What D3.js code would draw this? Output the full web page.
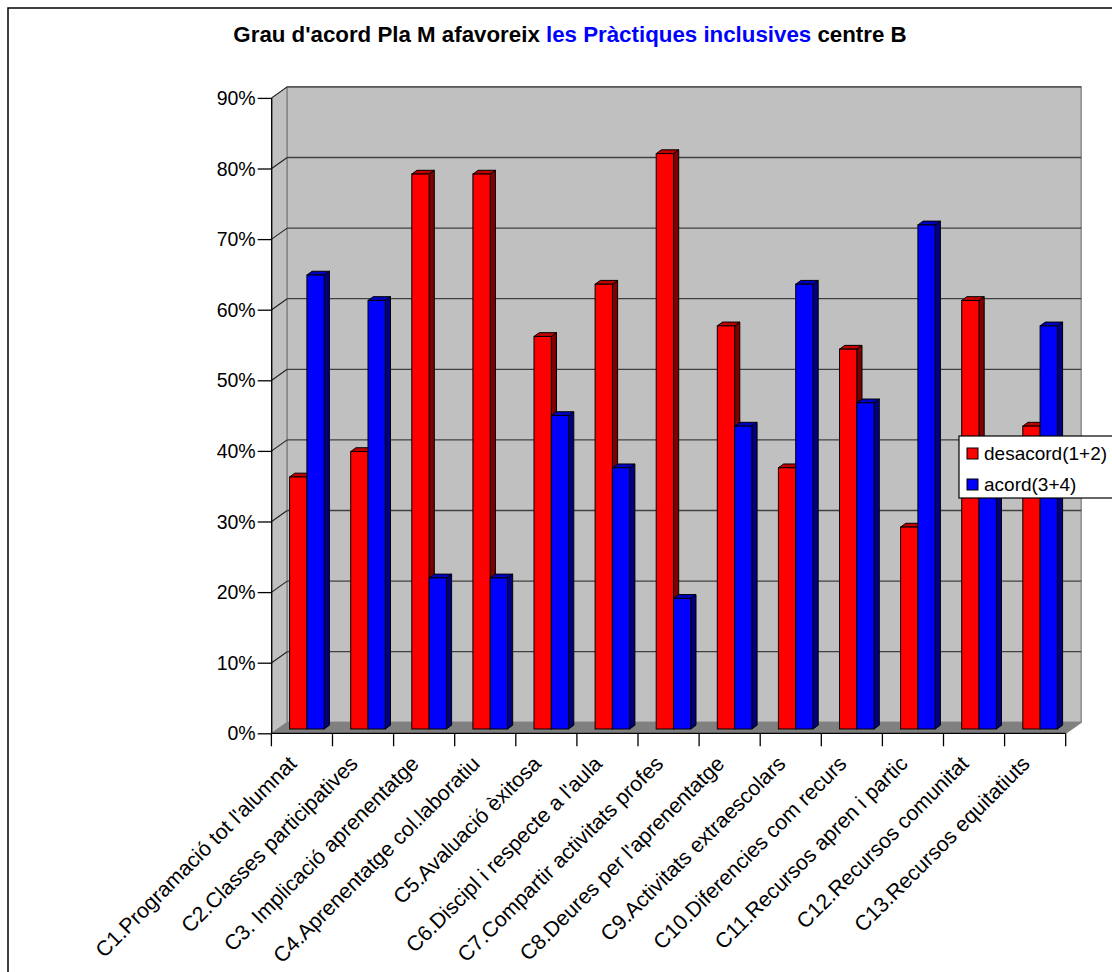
<!DOCTYPE html>
<html>
<head>
<meta charset="utf-8">
<script src="https://cdn.jsdelivr.net/npm/d3@7"></script>
<style>
  html, body { margin: 0; padding: 0; background: #fff; }
  svg { display: block; }
  text { font-family: "Liberation Sans", Arial, sans-serif; }
</style>
</head>
<body>
<svg id="chart" width="1112" height="972"></svg>
<script>
const categories = [
  "C1.Programació tot l'alumnat",
  "C2.Classes participatives",
  "C3. Implicació aprenentatge",
  "C4.Aprenentatge col.laboratiu",
  "C5.Avaluació èxitosa",
  "C6.Discipl i respecte a l'aula",
  "C7.Compartir activitats profes",
  "C8.Deures per l'aprenentatge",
  "C9.Activitats extraescolars",
  "C10.Diferencies com recurs",
  "C11.Recursos apren i partic",
  "C12.Recursos comunitat",
  "C13.Recursos equitatiuts"
];
const seriesNames = ["desacord(1+2)", "acord(3+4)"];
const desacord = [0.357, 0.393, 0.786, 0.786, 0.556, 0.630, 0.815, 0.571, 0.370, 0.538, 0.286, 0.607, 0.429];
const acord    = [0.643, 0.607, 0.214, 0.214, 0.444, 0.370, 0.185, 0.429, 0.630, 0.462, 0.714, 0.393, 0.571];
const yTicks = [0, 0.1, 0.2, 0.3, 0.4, 0.5, 0.6, 0.7, 0.8, 0.9];
const titleParts = [
  {text: "Grau d'acord Pla M afavoreix ", color: "#000000"},
  {text: "les Pràctiques inclusives", color: "#0000FF"},
  {text: " centre B", color: "#000000"}
];

const colors = {
  front: ["#FF0000", "#0000FF"],
  top:   ["#C00000", "#0000C0"],
  side:  ["#800000", "#000080"]
};

const svg = d3.select("#chart");
const FONT = 19.5;
const LABEL_FONT = 21.3;
const LEGEND_FONT = 19;

// outer chart border
svg.append("rect").attr("x", 8).attr("y", 8).attr("width", 1200).attr("height", 1200)
  .attr("fill", "none").attr("stroke", "#000").attr("stroke-width", 1.5);

// title
const title = svg.append("text").attr("x", 570).attr("y", 42)
  .attr("text-anchor", "middle").attr("font-weight", "bold").attr("font-size", 22.3);
titleParts.forEach(p => title.append("tspan").attr("fill", p.color).text(p.text));

// scales
const y = d3.scaleLinear().domain([0, 0.9]).range([733.3, 97.9]);
const x = d3.scaleBand().domain(categories).range([271.4, 1065.7]).padding(0);
const D = {x: 15.5, y: -11};            // full depth of the 3D box
const xs = d3.scaleBand().domain(seriesNames).range([12.2, 12.2 + 34.6]).padding(0);
const bf = {x: 6.0, y: -4.3};           // bar front offset into depth
const bd = {x: 5.2, y: -3.8};           // bar thickness in depth

const x0 = x.range()[0] + 0.3, x1 = x.range()[1];
const y0 = y(0), yTop = y(0.9);

// side wall
svg.append("polygon")
  .attr("points", [[x0, y0], [x0, yTop], [x0 + D.x, yTop + D.y], [x0 + D.x, y0 + D.y]].map(p => p.join(",")).join(" "))
  .attr("fill", "#C0C0C0").attr("stroke", "#808080").attr("stroke-width", 1);
// back wall
svg.append("rect").attr("x", x0 + D.x).attr("y", yTop + D.y)
  .attr("width", x1 - x0).attr("height", y0 - yTop)
  .attr("fill", "#C0C0C0").attr("stroke", "#808080").attr("stroke-width", 1.3);
// floor
svg.append("polygon")
  .attr("points", [[x0, y0], [x1, y0], [x1 + D.x, y0 + D.y], [x0 + D.x, y0 + D.y]].map(p => p.join(",")).join(" "))
  .attr("fill", "#808080").attr("stroke", "#808080").attr("stroke-width", 0.5);

// gridlines
const grid = svg.append("g");
yTicks.slice(1).forEach(t => {
  grid.append("line").attr("x1", x0 + D.x).attr("x2", x1 + D.x)
    .attr("y1", y(t) + D.y).attr("y2", y(t) + D.y)
    .attr("stroke", "#404040").attr("stroke-width", 1.3);
  grid.append("line").attr("x1", x0).attr("x2", x0 + D.x)
    .attr("y1", y(t)).attr("y2", y(t) + D.y)
    .attr("stroke", "#202020").attr("stroke-width", 1.1);
});

// y axis
const yAxis = d3.axisLeft(y).tickValues(yTicks).tickFormat(d3.format(".0%")).tickSize(14).tickPadding(2);
const gy = svg.append("g").attr("transform", `translate(${x0},0)`).call(yAxis);
gy.select(".domain").attr("stroke", "#000").attr("stroke-width", 1.3).attr("d", `M0,${y0}V${yTop}`);
gy.selectAll(".tick line").attr("stroke", "#000").attr("stroke-width", 1.3);
gy.selectAll(".tick text").attr("font-size", FONT).attr("font-family", "Liberation Sans, Arial, sans-serif")
  .attr("fill", "#000").attr("dy", "0.34em");

// bars
const data = categories.map((c, i) => ({cat: c, vals: [desacord[i], acord[i]]}));
const bars = svg.append("g");
data.forEach(d => {
  d.vals.forEach((v, s) => {
    const bx = x(d.cat) + xs(seriesNames[s]) + bf.x;
    const bw = xs.bandwidth();
    const by0 = y(0) + bf.y;
    const by1 = y(v) + bf.y;
    const g = bars.append("g");
    g.append("polygon")
      .attr("points", [[bx + bw, by0], [bx + bw, by1], [bx + bw + bd.x, by1 + bd.y], [bx + bw + bd.x, by0 + bd.y]].map(p => p.join(",")).join(" "))
      .attr("fill", colors.side[s]).attr("stroke", "#000").attr("stroke-width", 1).attr("stroke-linejoin", "round");
    g.append("polygon")
      .attr("points", [[bx, by1], [bx + bw, by1], [bx + bw + bd.x, by1 + bd.y], [bx + bd.x, by1 + bd.y]].map(p => p.join(",")).join(" "))
      .attr("fill", colors.top[s]).attr("stroke", "#000").attr("stroke-width", 1).attr("stroke-linejoin", "round");
    g.append("rect").attr("x", bx).attr("y", by1).attr("width", bw).attr("height", by0 - by1)
      .attr("fill", colors.front[s]).attr("stroke", "#000").attr("stroke-width", 1);
  });
});

// x axis
const xAxis = d3.axisBottom(x).tickSize(0).tickFormat("");
const gx = svg.append("g").attr("transform", `translate(0,${y0})`).call(xAxis);
gx.select(".domain").attr("stroke", "#000").attr("stroke-width", 1.3).attr("d", `M${x0},0H${x1}`);
// boundary ticks between categories
const bounds = categories.map(c => x(c)).concat([x1]);
gx.selectAll(".btick").data(bounds).join("line").attr("class", "btick")
  .attr("x1", d => d).attr("x2", d => d).attr("y1", 0).attr("y2", 13)
  .attr("stroke", "#000").attr("stroke-width", 1.3);
// floor right edge
svg.append("line").attr("x1", x1).attr("y1", y0).attr("x2", x1 + D.x).attr("y2", y0 + D.y)
  .attr("stroke", "#808080").attr("stroke-width", 1.3);

// rotated category labels
svg.append("g").selectAll("text").data(categories).join("text")
  .attr("transform", d => `translate(${x(d) + x.bandwidth() / 2 - 4},765) rotate(-45)`)
  .attr("text-anchor", "end").attr("font-size", LABEL_FONT).attr("fill", "#000")
  .text(d => d);

// legend
const lg = svg.append("g").attr("transform", "translate(959,436)");
lg.append("rect").attr("width", 200).attr("height", 62).attr("fill", "#fff")
  .attr("stroke", "#000").attr("stroke-width", 1.2);
seriesNames.forEach((n, i) => {
  lg.append("rect").attr("x", 8).attr("y", 12 + i * 31).attr("width", 11).attr("height", 11)
    .attr("fill", colors.front[i]).attr("stroke", "#000").attr("stroke-width", 1);
  lg.append("text").attr("x", 25).attr("y", 23.5 + i * 31).attr("font-size", LEGEND_FONT).attr("fill", "#000").text(n);
});
</script>
</body>
</html>
